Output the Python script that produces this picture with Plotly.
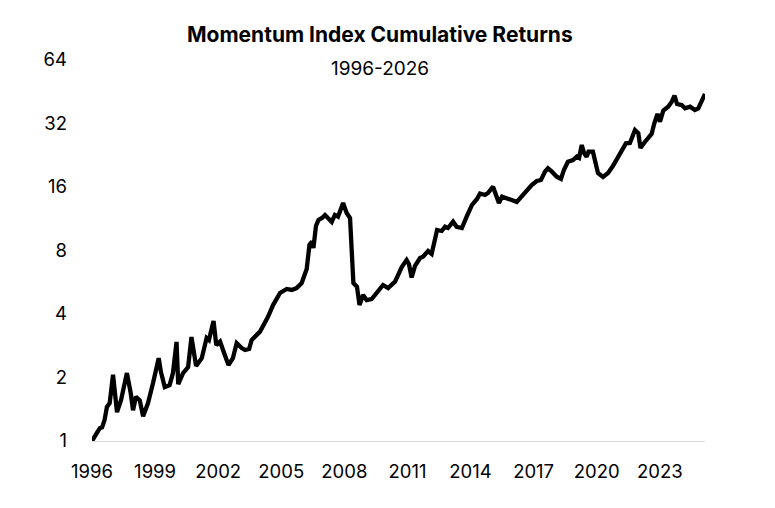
import plotly.graph_objects as go

# Momentum index growth of $1
years = [
    1996.00, 1996.37, 1996.48, 1996.60, 1996.71, 1996.84, 1997.00, 1997.09, 1997.19, 1997.38,
    1997.66, 1997.84, 1997.95, 1998.09, 1998.27, 1998.43, 1998.66, 1998.90, 1999.17, 1999.28,
    1999.46, 1999.69, 1999.85, 2000.02, 2000.10, 2000.33, 2000.57, 2000.73, 2000.95, 2001.22,
    2001.45, 2001.56, 2001.78, 2001.91, 2002.09, 2002.23, 2002.49, 2002.70, 2002.88, 2003.12,
    2003.28, 2003.47, 2003.59, 2003.99, 2004.37, 2004.61, 2004.94, 2005.26, 2005.50, 2005.73,
    2005.97, 2006.21, 2006.34, 2006.46, 2006.53, 2006.65, 2006.77, 2006.94, 2007.08, 2007.22,
    2007.40, 2007.55, 2007.70, 2007.94, 2008.11, 2008.27, 2008.35, 2008.43, 2008.60, 2008.72,
    2008.89, 2009.06, 2009.30, 2009.58, 2009.84, 2010.08, 2010.41, 2010.73, 2010.96, 2011.07,
    2011.20, 2011.36, 2011.60, 2011.74, 2011.98, 2012.15, 2012.31, 2012.41, 2012.63, 2012.79,
    2012.93, 2013.17, 2013.34, 2013.59, 2013.83, 2014.07, 2014.31, 2014.45, 2014.69, 2014.83,
    2015.07, 2015.24, 2015.35, 2015.50, 2015.72, 2015.96, 2016.20, 2016.43, 2016.67, 2016.91,
    2017.15, 2017.35, 2017.54, 2017.68, 2017.87, 2018.10, 2018.30, 2018.44, 2018.63, 2018.87,
    2019.05, 2019.16, 2019.29, 2019.40, 2019.52, 2019.61, 2019.82, 2019.92, 2020.06, 2020.30,
    2020.54, 2020.77, 2021.01, 2021.20, 2021.39, 2021.58, 2021.82, 2021.98, 2022.08, 2022.30,
    2022.61, 2022.74, 2022.89, 2023.01, 2023.17, 2023.40, 2023.57, 2023.70, 2023.82, 2024.04,
    2024.20, 2024.44, 2024.67, 2024.83, 2024.99, 2025.15,
]
cum_return = [
    1.00, 1.15, 1.16, 1.26, 1.45, 1.51, 2.06, 1.74, 1.37, 1.56,
    2.10, 1.69, 1.40, 1.62, 1.56, 1.31, 1.51, 1.88, 2.47, 2.12,
    1.80, 1.84, 2.10, 2.95, 1.86, 2.10, 2.24, 3.11, 2.27, 2.47,
    3.08, 3.01, 3.71, 2.85, 2.96, 2.70, 2.29, 2.47, 2.91, 2.76,
    2.70, 2.73, 3.01, 3.30, 3.88, 4.41, 5.03, 5.26, 5.20, 5.31,
    5.61, 6.54, 8.50, 8.81, 8.22, 10.45, 11.16, 11.41, 11.79, 11.41,
    10.92, 11.79, 11.57, 13.43, 12.05, 11.41, 8.50, 5.61, 5.39, 4.41,
    4.92, 4.66, 4.71, 5.08, 5.49, 5.31, 5.69, 6.68, 7.21, 6.90,
    5.96, 6.76, 7.37, 7.48, 7.95, 7.70, 9.37, 10.01, 9.90, 10.37,
    10.23, 10.96, 10.37, 10.23, 11.66, 13.15, 14.04, 14.91, 14.66, 14.99,
    16.06, 14.66, 13.43, 14.39, 14.19, 13.88, 13.58, 14.39, 15.49, 16.35,
    17.08, 17.27, 18.91, 19.62, 18.91, 17.90, 17.46, 19.27, 21.09, 21.48,
    22.27, 21.96, 25.30, 23.19, 22.27, 23.52, 23.52, 20.79, 18.64, 17.84,
    18.64, 20.12, 22.19, 23.96, 25.77, 25.87, 29.82, 28.76, 24.49, 26.23,
    28.54, 32.07, 35.50, 32.63, 36.88, 38.45, 40.60, 43.44, 39.59, 39.15,
    37.76, 38.45, 37.09, 37.76, 40.60, 44.17,
]

x_ticks = list(range(1996, 2024, 3))
y_ticks = [1, 2, 4, 8, 16, 32, 64]

font_name = "Inter"

fig = go.Figure()
fig.add_trace(go.Scatter(
    x=years, y=cum_return, mode="lines",
    line=dict(color="black", width=4.3),
    hoverinfo="x+y",
))

# the page body adds 8px at top/left, so margins are trimmed by that
fig.update_layout(
    width=775, height=508,
    margin=dict(l=84, r=78, t=52, b=75),
    plot_bgcolor="white", paper_bgcolor="white",
    showlegend=False,
    font=dict(family=font_name, size=18.5, color="black"),
    annotations=[
        dict(text="<b>Momentum Index Cumulative Returns</b>", x=0.47, y=1.066,
             xref="paper", yref="paper", showarrow=False, yanchor="middle",
             font=dict(family=font_name, size=21, color="black")),
        dict(text="1996-2026", x=0.47, y=0.979,
             xref="paper", yref="paper", showarrow=False, yanchor="middle",
             font=dict(family=font_name, size=19, color="black")),
    ],
)

fig.update_xaxes(
    range=[1996, 2025.15], tickvals=x_ticks,
    showgrid=False, zeroline=False,
    showline=True, linecolor="#d9d9d9", linewidth=1,
    ticks="", ticklabelstandoff=14,
)
fig.update_yaxes(
    type="log", range=[0, 1.80618], tickvals=y_ticks,
    ticktext=[str(v) for v in y_ticks],
    showgrid=False, zeroline=False, showline=False,
    ticks="", ticklabelstandoff=24,
)

fig.write_html("out.html")
